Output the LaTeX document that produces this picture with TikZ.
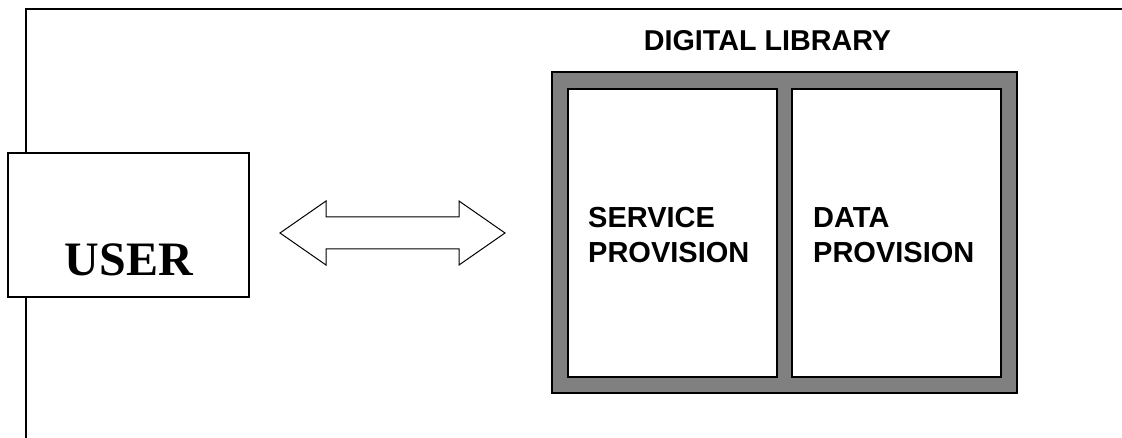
\documentclass[tikz,border=0pt]{standalone}
\usepackage{fontspec}
\setmainfont{Liberation Serif}
\setsansfont{Liberation Sans}
\definecolor{framegray}{RGB}{128,128,128}
\tikzset{
  outerline/.style={line width=2pt, draw=black},
  userbox/.style={draw=black, line width=2pt, fill=white, minimum width=241pt, minimum height=144pt, inner sep=0pt},
  dlframe/.style={draw=black, line width=1.5pt, fill=framegray, minimum width=465pt, minimum height=321pt, inner sep=0pt},
  partbox/.style={draw=black, line width=2pt, fill=white, minimum width=209pt, minimum height=288pt, inner sep=0pt},
  partlabel/.style={font=\sffamily\bfseries\fontsize{29}{35}\selectfont, align=left, anchor=north west, inner sep=0pt},
  biarrow/.style={draw=black, line width=1pt, fill=white, line join=miter}
}
\begin{document}
\begin{tikzpicture}[x=1pt,y=-1pt]
\useasboundingbox (0,0) rectangle (1122,438);
% outer frame
\coordinate (fbl) at (26,438);
\coordinate (ftl) at (26,9);
\coordinate (ftr) at (1122,9);
\draw[outerline] (fbl) -- (ftl) -- (ftr);
% user
\node[userbox] (user) at (128.5,225) {};
\node[font=\rmfamily\bfseries\fontsize{48}{58}\selectfont, anchor=base, inner sep=0pt] (usertext) at (129,276) {USER};
% double arrow
\draw[biarrow] (280,233) -- (326,201) -- (326,217) -- (459,217) -- (459,201) -- (505,233)
  -- (459,265) -- (459,249) -- (326,249) -- (326,265) -- cycle;
% digital library
\node[font=\sffamily\bfseries\fontsize{28.7}{34}\selectfont, anchor=base, inner sep=0pt] (dltitle) at (767.5,51) {DIGITAL LIBRARY};
\node[dlframe] (dl) at (784.5,232.5) {};
\node[partbox] (service) at (672.5,233) {};
\node[partbox] (data) at (896.5,233) {};
\node[partlabel] (servicetext) at (588,207.5) {SERVICE\\PROVISION};
\node[partlabel] (datatext) at (813,207.5) {DATA\\PROVISION};
\end{tikzpicture}
\end{document}
